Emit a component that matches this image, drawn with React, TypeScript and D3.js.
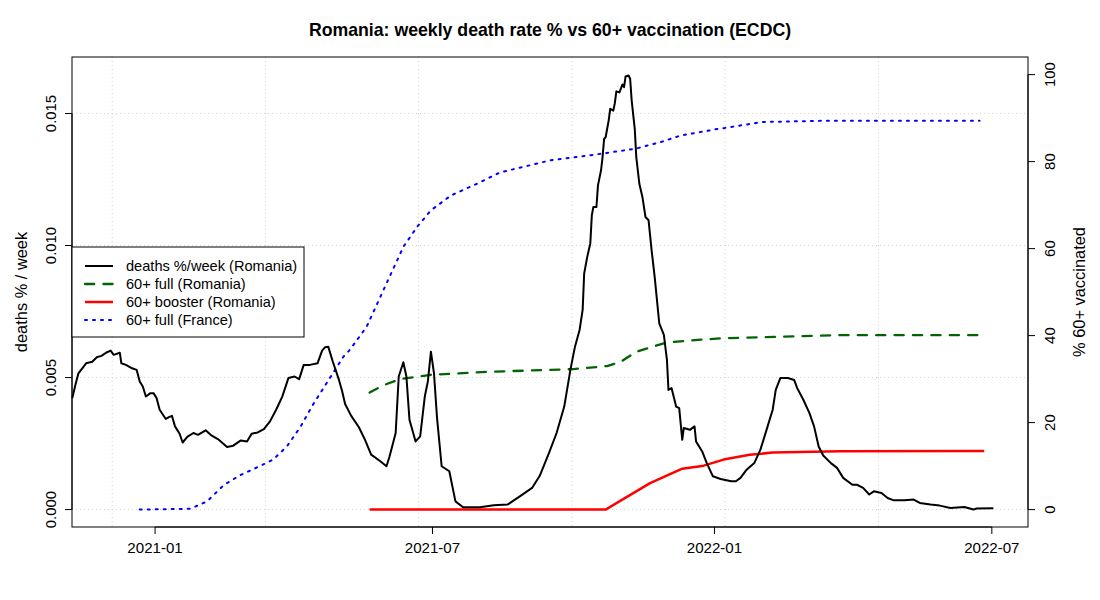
import * as d3 from 'd3'
import { useMemo } from 'react'

// day offsets are counted from 2021-01-01
const deathDays = [
  -54, -52, -50, -48, -45, -41, -38, -35, -32, -29, -27, -23, -22, -19, -15, -12, -10, -8, -6, -3, -1,
  1, 3, 7, 9, 11, 13, 16, 18, 21, 25, 28, 33, 37, 41, 47, 51, 56, 60, 63, 67, 71, 75, 79, 83, 87, 91,
  94, 97, 101, 106, 109, 111, 113, 116, 120, 122, 124, 128, 133, 137, 141, 147, 151, 153, 157, 159,
  162, 164, 166, 170, 173, 176, 178, 180, 182, 184, 187, 192, 196, 201, 212, 221, 230, 238, 246, 251,
  257, 262, 267, 271, 274, 277, 279, 280, 282, 284, 285, 286, 288, 289, 291, 292, 293, 294, 296, 297,
  299, 300, 301, 303, 305, 306, 307, 309, 310, 311, 313, 314, 316, 318, 320, 322, 324, 326, 329, 332,
  334, 335, 337, 340, 342, 344, 345, 349, 352, 353, 357, 360, 364, 369, 376, 379, 382, 386, 391, 395,
  399, 403, 405, 408, 413, 417, 419, 423, 427, 430, 433, 436, 441, 445, 449, 455, 458, 462, 466, 469,
  474, 478, 482, 489, 495, 499, 506, 512, 519, 528, 534, 536, 547,
]
const deathRate = [
  0.00422, 0.00472, 0.00516, 0.00531, 0.00554, 0.0056, 0.00577, 0.00582, 0.00594, 0.00602, 0.00586,
  0.00594, 0.00554, 0.00548, 0.00535, 0.00529, 0.00485, 0.00466, 0.00428, 0.00441, 0.00441,
  0.00422, 0.00378, 0.00343, 0.0035, 0.00355, 0.00315, 0.00287, 0.00254, 0.00275, 0.0029, 0.00283,
  0.003, 0.0028, 0.00267, 0.00237, 0.00242, 0.00262, 0.00258, 0.00287, 0.00292, 0.00305, 0.00334,
  0.00378, 0.00428, 0.00498, 0.00504, 0.00494, 0.00548, 0.00548, 0.00554, 0.00602, 0.00615, 0.00617,
  0.0056, 0.00491, 0.0045, 0.004, 0.00355, 0.00312, 0.00264, 0.00208, 0.00183, 0.00164, 0.00201,
  0.0029, 0.00504, 0.00558, 0.00504, 0.0034, 0.00258, 0.00277, 0.00428, 0.00485, 0.00598, 0.00516,
  0.00346, 0.00164, 0.00145, 0.00031, 0.00009, 0.00009, 0.00016, 0.00019, 0.0005, 0.00082, 0.00128,
  0.00214, 0.0029, 0.0039, 0.00529, 0.00617, 0.0068, 0.00756, 0.00894, 0.00957, 0.01008, 0.01115,
  0.01146, 0.01146, 0.01228, 0.01285, 0.01335, 0.01404, 0.0141, 0.01474, 0.01518, 0.01511, 0.01539,
  0.01584, 0.0158, 0.0161, 0.016, 0.0164, 0.01644, 0.01631, 0.01549, 0.01442, 0.01335, 0.01234,
  0.01184, 0.01108, 0.01096, 0.00982, 0.00881, 0.00705, 0.00662, 0.00567, 0.00453, 0.0046, 0.0039,
  0.00384, 0.00264, 0.00309, 0.00302, 0.00315, 0.00258, 0.0022, 0.00176, 0.00126, 0.00116, 0.00107,
  0.00107, 0.0012, 0.00151, 0.00176, 0.00227, 0.00302, 0.00378, 0.00453, 0.00498, 0.00498, 0.00491,
  0.0046, 0.00416, 0.00365, 0.00315, 0.00239, 0.00205, 0.00176, 0.00158, 0.0012, 0.00094, 0.00094,
  0.00082, 0.00057, 0.00069, 0.00063, 0.00044, 0.00035, 0.00035, 0.00038, 0.00025, 0.00019, 0.00015,
  0.00006, 0.0001, 0.0, 0.00004, 0.00005,
]

const roFullDays = [140, 149, 160, 180, 219, 256, 273, 295, 304, 314, 328, 334, 354, 371, 447, 541]
const roFull = [26.9, 28.6, 30.0, 31.0, 31.7, 32.1, 32.3, 33.0, 34.0, 36.3, 37.8, 38.4, 39.0, 39.4, 40.1, 40.1]

const roBoosterDays = [140, 294, 323, 344, 358, 371, 388, 403, 447, 541]
const roBooster = [0, 0, 6.1, 9.4, 10.1, 11.5, 12.6, 13.1, 13.4, 13.5]

const frFullDays = [
  -10, 23, 34, 45, 56, 69, 77, 86, 95, 103, 112, 123, 127, 138, 147, 156, 162, 171, 180, 193, 210,
  225, 258, 291, 314, 330, 343, 367, 373, 396, 438, 538,
]
const frFull = [
  0, 0.2, 1.9, 5.7, 8.0, 10.1, 11.5, 14.5, 19.1, 24.1, 29.1, 35.2, 36.7, 42.0, 48.9, 55.8, 60.4, 65.0,
  68.8, 72.2, 74.9, 77.5, 80.3, 81.8, 83.0, 84.5, 86.0, 87.5, 87.8, 89.1, 89.4, 89.4,
]

const xTicks = ['2021-01-01', '2021-07-01', '2022-01-01', '2022-07-01']
const xTickLabels = ['2021-01', '2021-07', '2022-01', '2022-07']
// grid() puts vertical lines at round day numbers since 1970
const gridEpochDays = [18600, 18700, 18800, 18900, 19000, 19100]
const leftTicks = [0, 0.005, 0.01, 0.015]
const rightTicks = [0, 20, 40, 60, 80, 100]

const legendItems = [
  { label: 'deaths %/week (Romania)', color: '#000000', width: 2, dash: '' },
  { label: '60+ full (Romania)', color: '#006400', width: 2.3, dash: '9.2,9.2' },
  { label: '60+ booster (Romania)', color: '#ff0000', width: 2.5, dash: '' },
  { label: '60+ full (France)', color: '#0000ff', width: 2, dash: '2,6' },
]

const BASE = Date.UTC(2021, 0, 1)
const DAY = 86400000
const dayToDate = (d: number) => new Date(BASE + d * DAY)

const font = '"Liberation Sans", Arial, Helvetica, sans-serif'

export default function App() {
  const width = 1100
  const height = 600
  const m = { left: 72, right: 1028, top: 57, bottom: 527 }

  const chart = useMemo(() => {
    const x = d3
      .scaleUtc()
      .domain([dayToDate(-54.2), dayToDate(569.6)])
      .range([m.left, m.right])
    const yL = d3.scaleLinear().domain([-0.00066, 0.01714]).range([m.bottom, m.top])
    const yR = d3.scaleLinear().domain([-4.0, 104.05]).range([m.bottom, m.top])
    const mk = (days: number[], vals: number[], y: d3.ScaleLinear<number, number>) =>
      d3
        .line<number>()
        .x((_, i) => x(dayToDate(days[i])))
        .y(v => y(v))(vals) ?? ''
    return {
      x,
      yL,
      yR,
      deaths: mk(deathDays, deathRate, yL),
      roFull: mk(roFullDays, roFull, yR),
      roBooster: mk(roBoosterDays, roBooster, yR),
      frFull: mk(frFullDays, frFull, yR),
    }
  }, [])

  const { x, yL, yR } = chart
  const xt = xTicks.map(t => x(new Date(t + 'T00:00:00Z')))

  return (
    <svg
      width={width}
      height={height}
      style={{ position: 'absolute', left: 0, top: 0, background: '#fff', fontFamily: font }}
    >
      <text x={550} y={35.7} textAnchor="middle" fontWeight="bold" fontSize={17.7}>
        Romania: weekly death rate % vs 60+ vaccination (ECDC)
      </text>

      {/* grid */}
      {gridEpochDays.map(g => (
        <line
          key={g}
          x1={x(new Date(g * DAY))}
          x2={x(new Date(g * DAY))}
          y1={m.top}
          y2={m.bottom}
          stroke="#d3d3d3"
          strokeDasharray="1,3"
        />
      ))}
      {leftTicks.map(t => (
        <line
          key={t}
          x1={m.left}
          x2={m.right}
          y1={yL(t)}
          y2={yL(t)}
          stroke="#d3d3d3"
          strokeDasharray="1,3"
        />
      ))}

      {/* series */}
      <path d={chart.frFull} fill="none" stroke="#0000ff" strokeWidth={2} strokeDasharray="2,6" strokeLinecap="round" />
      <path d={chart.roFull} fill="none" stroke="#006400" strokeWidth={2.3} strokeDasharray="9.2,9.2" strokeLinecap="round" />
      <path d={chart.roBooster} fill="none" stroke="#ff0000" strokeWidth={2.5} strokeLinejoin="round" />
      <path d={chart.deaths} fill="none" stroke="#000" strokeWidth={2} strokeLinejoin="round" />

      {/* box */}
      <rect x={m.left} y={m.top} width={m.right - m.left} height={m.bottom - m.top} fill="none" stroke="#000" strokeWidth={1} />

      {/* bottom axis */}
      <line x1={xt[0]} x2={xt[xt.length - 1]} y1={m.bottom} y2={m.bottom} stroke="#000" />
      {xt.map((px, i) => (
        <g key={i}>
          <line x1={px} x2={px} y1={m.bottom} y2={m.bottom + 7} stroke="#000" />
          <text x={px} y={552.5} textAnchor="middle" fontSize={15.1}>
            {xTickLabels[i]}
          </text>
        </g>
      ))}

      {/* left axis */}
      <line x1={m.left} x2={m.left} y1={yL(0)} y2={yL(0.015)} stroke="#000" />
      {leftTicks.map(t => (
        <g key={t}>
          <line x1={m.left - 7} x2={m.left} y1={yL(t)} y2={yL(t)} stroke="#000" />
          <text transform={`translate(55.5,${yL(t)}) rotate(-90)`} textAnchor="middle" fontSize={14.9}>
            {d3.format('.3f')(t)}
          </text>
        </g>
      ))}
      <text transform={`translate(26.7,${(m.top + m.bottom) / 2}) rotate(-90)`} textAnchor="middle" fontSize={16.4}>
        deaths % / week
      </text>

      {/* right axis */}
      <line x1={m.right} x2={m.right} y1={yR(0)} y2={yR(100)} stroke="#000" />
      {rightTicks.map(t => (
        <g key={t}>
          <line x1={m.right} x2={m.right + 7} y1={yR(t)} y2={yR(t)} stroke="#000" />
          <text transform={`translate(1055,${yR(t)}) rotate(-90)`} textAnchor="middle" fontSize={14.9}>
            {t}
          </text>
        </g>
      ))}
      <text transform={`translate(1085,${(m.top + m.bottom) / 2}) rotate(-90)`} textAnchor="middle" fontSize={16.4}>
        % 60+ vaccinated
      </text>

      {/* legend */}
      <rect x={m.left} y={247} width={232} height={90} fill="#fff" stroke="#000" />
      {legendItems.map((it, i) => {
        const cy = 266 + i * 18
        return (
          <g key={it.label}>
            <line
              x1={85}
              x2={113}
              y1={cy}
              y2={cy}
              stroke={it.color}
              strokeWidth={it.width}
              strokeDasharray={it.dash || undefined}
              strokeLinecap={it.dash ? 'round' : 'butt'}
            />
            <text x={126} y={cy + 5} fontSize={14.6}>
              {it.label}
            </text>
          </g>
        )
      })}
    </svg>
  )
}
